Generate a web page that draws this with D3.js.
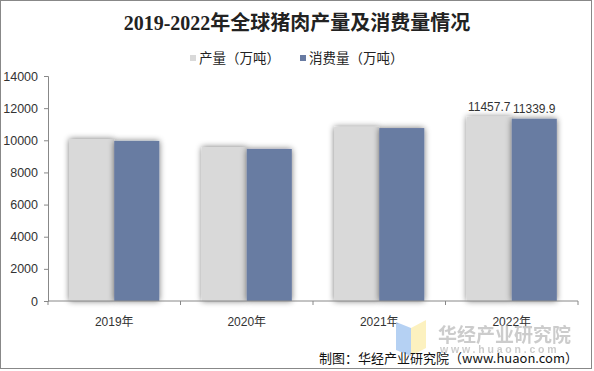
<!DOCTYPE html>
<html>
<head>
<meta charset="utf-8">
<script src="https://cdn.jsdelivr.net/npm/d3@7"></script>
<style>
  body { margin: 0; background: #fff; }
  text { font-family: "Liberation Sans", Arial, "Noto Sans CJK SC", sans-serif; }
</style>
</head>
<body>
<script>

// chart data
var years       = ["2019年", "2020年", "2021年", "2022年"];
var seriesNames = ["产量（万吨）", "消费量（万吨）"];
var production  = [10080, 9580, 10830, 11457.7];
var consumption = [9960, 9460, 10760, 11339.9];
var yTicks      = [0, 2000, 4000, 6000, 8000, 10000, 12000, 14000];
var colors      = ["#d9d9d9", "#687ba2"];

var W = 594, H = 371;
var margin = {left: 48, right: 16, top: 76, bottom: 70};

var svg = d3.select("body").append("svg")
    .attr("width", W)
    .attr("height", H);

// soft side shadow on bars
var defs = svg.append("defs");
var f = defs.append("filter").attr("id", "shadow")
    .attr("x", "-30%").attr("y", "-10%").attr("width", "160%").attr("height", "120%");
f.append("feGaussianBlur").attr("in", "SourceAlpha").attr("stdDeviation", 3).attr("result", "blur");
f.append("feComponentTransfer").attr("in", "blur").attr("result", "sh")
    .append("feFuncA").attr("type", "linear").attr("slope", 0.55);
var fm = f.append("feMerge");
fm.append("feMergeNode").attr("in", "sh");
fm.append("feMergeNode").attr("in", "SourceGraphic");

// outer frame
svg.append("rect")
    .attr("x", 0.5).attr("y", 0.5)
    .attr("width", W - 3).attr("height", H - 3)
    .attr("fill", "#fff")
    .attr("stroke", "#888");

var x0 = d3.scaleBand()
    .domain(years)
    .range([margin.left, W - margin.right])
    .paddingInner(0.32)
    .paddingOuter(0.16);

var x1 = d3.scaleBand()
    .domain([0, 1])
    .range([0, x0.bandwidth()]);

var y = d3.scaleLinear()
    .domain([0, 14000])
    .range([H - margin.bottom, margin.top]);

// title
svg.append("text")
    .attr("x", 297).attr("y", 30)
    .attr("text-anchor", "middle")
    .style("font-family", "'Liberation Serif', 'Noto Sans CJK SC', serif")
    .style("font-size", "20px")
    .style("font-weight", "bold")
    .attr("fill", "#222")
    .text("2019-2022年全球猪肉产量及消费量情况");

// legend
var legendX = [190, 300];
seriesNames.forEach(function(name, i) {
    svg.append("rect")
        .attr("x", legendX[i]).attr("y", 55)
        .attr("width", 6).attr("height", 6)
        .attr("fill", colors[i]);
    svg.append("text")
        .attr("x", legendX[i] + 9).attr("y", 63)
        .style("font-family", "'Noto Sans CJK SC', sans-serif")
        .style("font-size", "13.5px")
        .attr("fill", "#222")
        .text(name);
});

// bars
var groups = svg.append("g").selectAll("g")
    .data(years)
    .enter().append("g")
    .attr("transform", function(d) { return "translate(" + x0(d) + ",0)"; });

groups.selectAll("rect")
    .data(function(d, i) { return [production[i], consumption[i]]; })
    .enter().append("rect")
    .attr("x", function(d, j) { return x1(j); })
    .attr("y", function(d) { return y(d); })
    .attr("width", x1.bandwidth())
    .attr("height", function(d) { return y(0) - y(d); })
    .attr("fill", function(d, j) { return colors[j]; })
    .attr("filter", "url(#shadow)");

// value labels on last year only
var last = years.length - 1;
[production[last], consumption[last]].forEach(function(v, j) {
    svg.append("text")
        .attr("x", x0(years[last]) + x1(j) + x1.bandwidth() / 2)
        .attr("y", y(v) - 6)
        .attr("text-anchor", "middle")
        .style("font-size", "12px")
        .attr("fill", "#333")
        .text(v.toFixed(1));
});

// y axis
var yAxis = svg.append("g")
    .attr("transform", "translate(" + margin.left + ",0)")
    .call(d3.axisLeft(y).tickValues(yTicks).tickFormat(d3.format("d")).tickSize(4).tickPadding(6));
yAxis.selectAll("text").style("font-size", "12.5px").attr("fill", "#333");
yAxis.selectAll("line, path").attr("stroke", "#888");

// x axis with ticks at band edges
var xAxisG = svg.append("g")
    .attr("transform", "translate(0," + y(0) + ")");
xAxisG.append("line")
    .attr("x1", margin.left).attr("x2", W - margin.right)
    .attr("stroke", "#888");
var step = x0.step();
var edges = years.map(function(d) { return x0(d) - step * x0.paddingInner() / 2; })
    .concat([W - margin.right]);
xAxisG.selectAll(".tk").data(edges).enter().append("line")
    .attr("x1", function(d) { return d; }).attr("x2", function(d) { return d; })
    .attr("y1", 0).attr("y2", 4)
    .attr("stroke", "#888");
xAxisG.selectAll(".lbl").data(years).enter().append("text")
    .attr("x", function(d) { return x0(d) + x0.bandwidth() / 2; })
    .attr("y", 25)
    .attr("text-anchor", "middle")
    .style("font-size", "12px")
    .attr("fill", "#333")
    .text(function(d) { return d; });

// watermark
var wm = svg.append("g").attr("opacity", 0.85);
wm.append("path")
    .attr("d", "M396,322 L411,328 L411,356 L396,350 Z")
    .attr("fill", "#a9c9f2");
wm.append("path")
    .attr("d", "M411,328 L426,320 L426,348 L411,356 Z")
    .attr("fill", "#fcefb4");
wm.append("text")
    .attr("x", 438).attr("y", 342)
    .style("font-family", "'Noto Sans CJK SC', sans-serif")
    .style("font-size", "19px")
    .style("font-weight", "bold")
    .attr("fill", "#c4c4c4")
    .text("华经产业研究院");
wm.append("text")
    .attr("x", 440).attr("y", 353)
    .style("font-size", "10.5px")
    .style("font-weight", "bold")
    .style("letter-spacing", "2.8px")
    .attr("fill", "#c4c4c4")
    .text("www.huaon.com");

// source note
svg.append("text")
    .attr("x", 578).attr("y", 363)
    .attr("text-anchor", "end")
    .style("font-family", "'Noto Sans CJK SC', sans-serif")
    .style("font-size", "13px")
    .attr("fill", "#111")
    .text("制图：华经产业研究院（www.huaon.com）");

</script>
</body>
</html>
